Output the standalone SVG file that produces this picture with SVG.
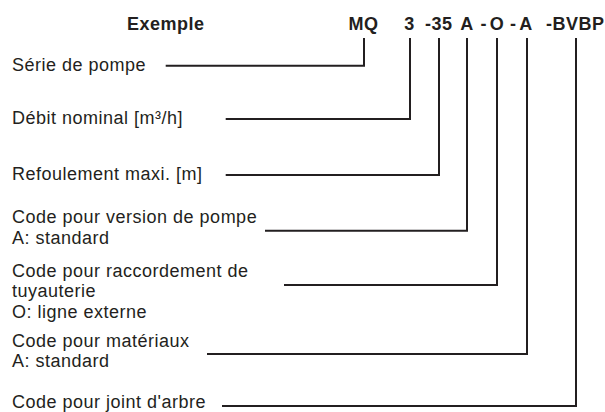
<svg xmlns="http://www.w3.org/2000/svg" width="605" height="412" viewBox="0 0 605 412">
<style>
.t{font-family:"Liberation Sans",Arial,Helvetica,sans-serif;font-size:18px;letter-spacing:0.5px;fill:#231f20}
.h{font-family:"Liberation Sans",Arial,Helvetica,sans-serif;font-size:18px;font-weight:bold;letter-spacing:0.5px;fill:#231f20}
.c{fill:none;stroke:#231f20;stroke-width:2;stroke-linejoin:miter;stroke-linecap:butt}
</style>
<rect width="605" height="412" fill="#ffffff"/>
<g id="header">
<text class="h" x="127" y="30">Exemple</text>
<text class="h" x="363.5" y="30" text-anchor="middle">MQ</text>
<text class="h" x="409.5" y="30" text-anchor="middle">3</text>
<text class="h" x="425" y="30">-35</text>
<text class="h" x="467" y="30" text-anchor="middle">A</text>
<text class="h" x="480.5" y="30">-</text>
<text class="h" x="497" y="30" text-anchor="middle">O</text>
<text class="h" x="510" y="30">-</text>
<text class="h" x="526" y="30" text-anchor="middle">A</text>
<text class="h" x="546" y="30">-BVBP</text>
</g>
<g id="connectors">
<path class="c" d="M165.7,65.7 H364 V38"/>
<path class="c" d="M225.7,119 H410 V38"/>
<path class="c" d="M225.7,175 H439 V38"/>
<path class="c" d="M265,230.7 H467 V38"/>
<path class="c" d="M284,285 H497 V38"/>
<path class="c" d="M207,354 H527 V38"/>
<path class="c" d="M222,406 H576 V38"/>
</g>
<g id="serie"><text class="t" x="12" y="70.5">Série de pompe</text></g>
<g id="debit"><text class="t" x="12" y="124">Débit nominal [m³/h]</text></g>
<g id="refoulement"><text class="t" x="12" y="180">Refoulement maxi. [m]</text></g>
<g id="version"><text class="t" x="12" y="222.5">Code pour version de pompe</text><text class="t" x="12" y="243.5">A: standard</text></g>
<g id="raccordement"><text class="t" x="12" y="276.5">Code pour raccordement de</text><text class="t" x="12" y="297">tuyauterie</text><text class="t" x="12" y="317.5">O: ligne externe</text></g>
<g id="materiaux"><text class="t" x="12" y="346.5">Code pour matériaux</text><text class="t" x="12" y="367">A: standard</text></g>
<g id="joint"><text class="t" x="12" y="408">Code pour joint d'arbre</text></g>
</svg>
